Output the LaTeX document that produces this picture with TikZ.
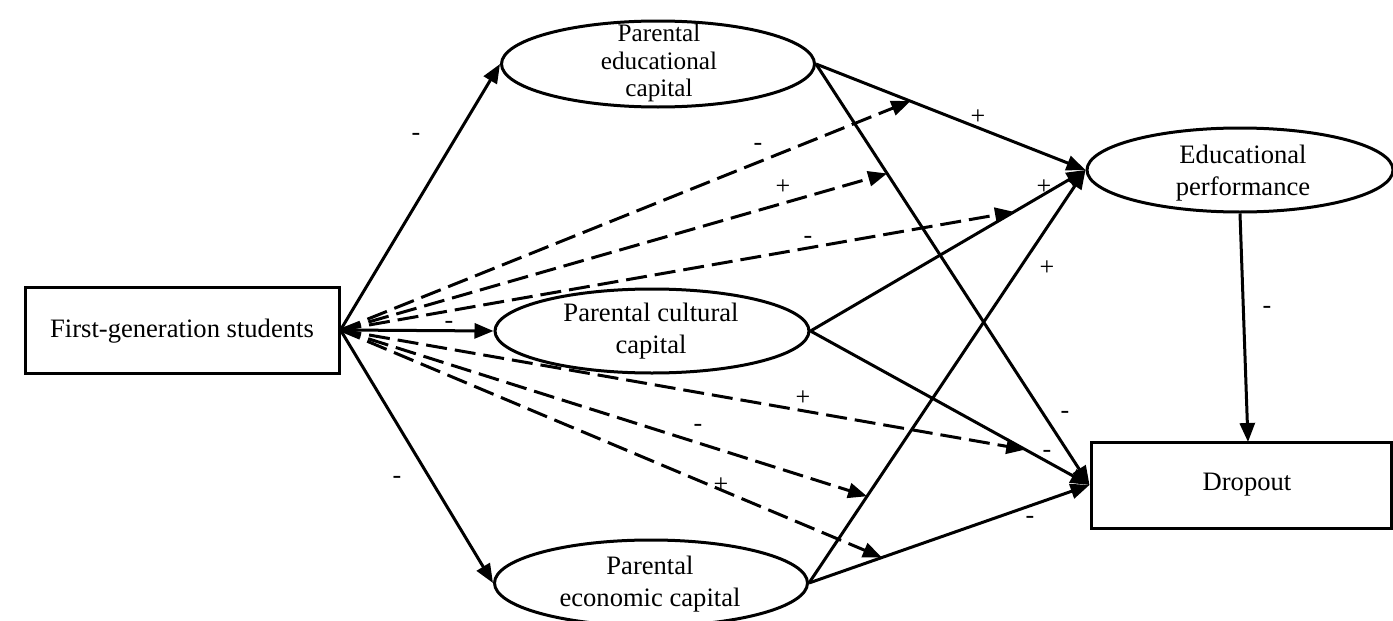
\documentclass[tikz,border=0pt]{standalone}
\usepackage{fontspec}
\setmainfont{Liberation Serif}
\usetikzlibrary{arrows.meta,calc,shapes.geometric}
\begin{document}
\begin{tikzpicture}[x=0.5pt,y=-0.5pt,
  boxnode/.style={draw,line width=1.5pt,rectangle,inner sep=0pt},
  ellnode/.style={draw,line width=1.5pt,ellipse,inner sep=0pt},
  txt/.style={align=center,inner sep=0pt,font=\fontsize{13.3}{16}\selectfont},
  lbl/.style={inner sep=0pt,font=\fontsize{13}{14}\selectfont},
  arr/.style={line width=1.5pt,-{Triangle[length=9.5pt,width=7.5pt]}},
  dsh/.style={arr,dash pattern=on 10.5pt off 4pt}]
\useasboundingbox (0,0) rectangle (1393,621);

% nodes
\node[boxnode,minimum width=157pt,minimum height=43pt] (fg) at (182,330) {};
\node[txt] (fgt) at (182,331) {First-generation students};

\node[ellnode,minimum width=156.5pt,minimum height=43pt] (edu) at (658,64) {};
\node[txt,font=\fontsize{12.6}{13.8}\selectfont] (edut) at (659,63) {Parental\\educational\\capital};

\node[ellnode,minimum width=157pt,minimum height=42pt] (cult) at (652,331) {};
\node[txt] (cultt) at (651,331) {Parental cultural\\capital};

\node[ellnode,minimum width=156.5pt,minimum height=43pt] (eco) at (651,583) {};
\node[txt] (ecot) at (650,584) {Parental\\economic capital};

\node[ellnode,minimum width=153pt,minimum height=42pt] (perf) at (1240,170) {};
\node[txt] (perft) at (1243,173) {Educational\\performance};

\node[boxnode,minimum width=150pt,minimum height=43pt] (drop) at (1241,485) {};
\node[txt] (dropt) at (1247,485) {Dropout};

% mediation target points
\coordinate (ma) at ($(edu.east)!0.35!(perf.west)$);
\coordinate (mb) at ($(edu.east)!0.26!(drop.west)$);
\coordinate (mc) at ($(cult.east)!0.74!(perf.west)$);
\coordinate (md) at ($(cult.east)!0.77!(drop.west)$);
\coordinate (me) at ($(eco.east)!0.21!(perf.west)$);
\coordinate (mf) at ($(eco.east)!0.26!(drop.west)$);
\coordinate (dtop) at (1248,442);

% solid paths
\draw[arr] (fg.east) -- (edu.west);
\draw[arr] (fg.east) -- (cult.west);
\draw[arr] (fg.east) -- (eco.west);
\draw[arr] (edu.east) -- (perf.west);
\draw[arr] (edu.east) -- (drop.west);
\draw[arr] (cult.east) -- (perf.west);
\draw[arr] (cult.east) -- (drop.west);
\draw[arr] (eco.east) -- (perf.west);
\draw[arr] (eco.east) -- (drop.west);
\draw[arr] (perf.south) -- (dtop);

% dashed mediation paths
\draw[dsh] (fg.east) -- (ma);
\draw[dsh] (fg.east) -- (mb);
\draw[dsh] (fg.east) -- (mc);
\draw[dsh] (fg.east) -- (md);
\draw[dsh] (fg.east) -- (me);
\draw[dsh] (fg.east) -- (mf);

% labels
\node[lbl] (l1) at (416,137) {-};
\node[lbl] (l2) at (449,325) {-};
\node[lbl] (l3) at (397,480) {-};
\node[lbl] (l4) at (758,147) {-};
\node[lbl] (l5) at (783,187) {+};
\node[lbl] (l6) at (808,240) {-};
\node[lbl] (l7) at (803,398) {+};
\node[lbl] (l8) at (698,428) {-};
\node[lbl] (l9) at (721,485) {+};
\node[lbl] (l10) at (978,117) {+};
\node[lbl] (l11) at (1044,187) {+};
\node[lbl] (l12) at (1047,268) {+};
\node[lbl] (l13) at (1267,310) {-};
\node[lbl] (l14) at (1065,415) {-};
\node[lbl] (l15) at (1047,454) {-};
\node[lbl] (l16) at (1030,520) {-};
\end{tikzpicture}
\end{document}
